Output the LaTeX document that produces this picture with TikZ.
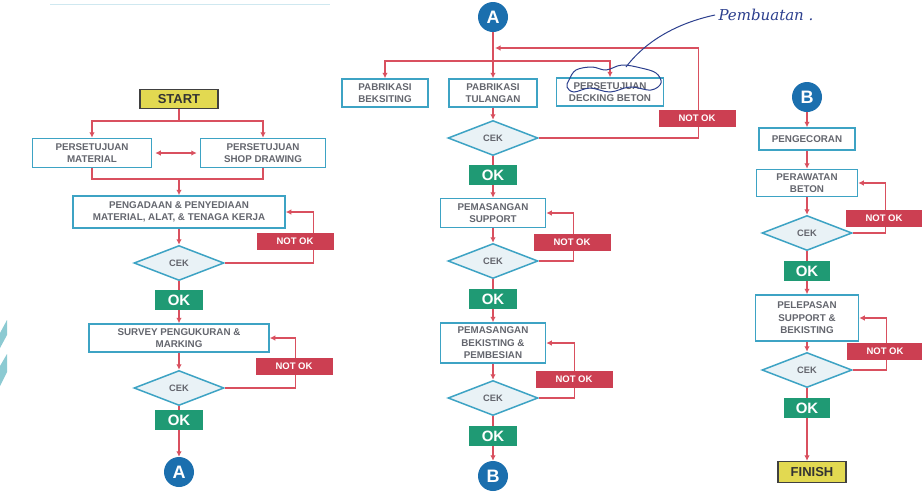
\documentclass[tikz,border=0pt]{standalone}
\usepackage{fontspec}
\setmainfont{Liberation Sans}
\newfontfamily\handfont{DejaVu Serif}
\usetikzlibrary{shapes.geometric,arrows.meta}
\definecolor{flowred}{HTML}{D9505F}
\definecolor{boxblue}{HTML}{3DA3C4}
\definecolor{txtgray}{HTML}{64666E}
\definecolor{cekfill}{HTML}{E9F2F6}
\definecolor{nokred}{HTML}{CC3F52}
\definecolor{okgreen}{HTML}{1F9A74}
\definecolor{conblue}{HTML}{1B6FAE}
\definecolor{termyellow}{HTML}{E2D951}
\definecolor{ink}{HTML}{2C3F8E}
\definecolor{stripe}{HTML}{8CCAD2}
\tikzset{
  wire/.style={flowred,line width=1.4pt},
  flow/.style={wire,-{Latex[length=5.5pt,width=5.5pt]}},
  stepbox/.style={draw=boxblue,line width=1.5pt,fill=white,inner sep=1pt,align=center,
    text=txtgray,font=\fontsize{9.8}{12.5}\selectfont\bfseries},
  cekbox/.style={diamond,aspect=1,draw=boxblue,line width=1.5pt,fill=cekfill,inner sep=0pt,
    minimum width=90pt,minimum height=35pt,text=txtgray,font=\fontsize{9.3}{10}\selectfont\bfseries},
  okbox/.style={fill=okgreen,text=white,inner sep=0pt,minimum width=48pt,minimum height=20pt,
    font=\fontsize{15}{15}\selectfont\bfseries},
  notok/.style={fill=nokred,text=white,inner sep=0pt,minimum width=77pt,minimum height=17pt,
    font=\fontsize{9.5}{10}\selectfont\bfseries},
  termbox/.style={fill=termyellow,draw=black!75,line width=1.3pt,inner sep=0pt,text=black!80,
    font=\fontsize{13}{13}\selectfont\bfseries},
  conn/.style={circle,fill=conblue,text=white,inner sep=0pt,minimum size=30pt,
    font=\fontsize{18}{18}\selectfont\bfseries},
}
% diamond, feedback to the box above and its NOT OK tag
\newcommand{\cekloop}[6]{%
  \node[cekbox] (#1) at (#2,#3) {CEK};
  \draw[flow] (#1.east) -- ++(#4,0) |- (#5.east);
  \node[notok] (#1n) at (#6) {NOT OK};
}

\begin{document}
\begin{tikzpicture}[x=1pt,y=-1pt]
  \fill[white] (0,0) rectangle (922,491);
  \useasboundingbox (0,0) rectangle (922,491);
  \draw[boxblue!25,line width=1pt] (50,4) -- (330,4);
  \fill[stripe] (0,333) -- (7,320) -- (7,335) -- (0,348) -- cycle;
  \fill[stripe] (0,366) -- (7,354) -- (7,372) -- (0,386) -- cycle;

  % left column
  \node[termbox,minimum width=78pt,minimum height=19pt] (start) at (179,99) {START};
  \node[stepbox,minimum width=119pt,minimum height=29pt] (pmat) at (92,153) {PERSETUJUAN\\MATERIAL};
  \node[stepbox,minimum width=125pt,minimum height=29pt] (pshop) at (263,153) {PERSETUJUAN\\SHOP DRAWING};
  \node[stepbox,minimum width=212pt,minimum height=32pt] (adaan) at (179,212) {PENGADAAN \& PENYEDIAAN\\MATERIAL, ALAT, \& TENAGA KERJA};
  \draw[flow] (start.south) -- ++(0,12) -| (pmat.north);
  \draw[flow] (start.south) -- ++(0,12) -| (pshop.north);
  \draw[flow,{Latex[length=5.5pt,width=5.5pt]}-{Latex[length=5.5pt,width=5.5pt]},shorten <=3pt,shorten >=3pt] (pmat) -- (pshop);
  \coordinate (join1) at (179,179);
  \draw[wire] (pmat.south) |- (join1) -| (pshop.south);
  \draw[flow] (join1) -- (adaan.north);
  \cekloop{cek1}{179}{263}{89}{adaan}{295,241}
  \draw[flow] (adaan) -- (cek1);
  \node[okbox] (ok1) at (179,300) {OK};
  \draw[wire] (cek1) -- (ok1);
  \node[stepbox,minimum width=180pt,minimum height=28pt] (survey) at (179,338) {SURVEY PENGUKURAN \&\\MARKING};
  \draw[flow] (ok1) -- (survey);
  \cekloop{cek2}{179}{388}{71}{survey}{294,366}
  \draw[flow] (survey) -- (cek2);
  \node[okbox] (ok2) at (179,420) {OK};
  \draw[wire] (cek2) -- (ok2);
  \node[conn] (conA) at (179,472) {A};
  \draw[flow] (ok2) -- (conA);

  % middle column
  \node[conn] (conA2) at (493,17) {A};
  \node[stepbox,minimum width=86pt,minimum height=28pt] (pbek) at (385,93) {PABRIKASI\\BEKSITING};
  \node[stepbox,minimum width=88pt,minimum height=28pt] (ptul) at (493,93) {PABRIKASI\\TULANGAN};
  \node[stepbox,minimum width=107pt,minimum height=28pt] (pdeck) at (610,92) {PERSETUJUAN\\DECKING BETON};
  \coordinate (split) at (493,61);
  \coordinate (back) at (495,48);
  \draw[flow] (conA2) -- (ptul);
  \draw[flow] (split) -| (pbek.north);
  \draw[flow] (split) -| (pdeck.north);
  \node[cekbox] (cek3) at (493,138) {CEK};
  \draw[flow] (ptul) -- (cek3);
  \draw[flow] (cek3.east) -- ++(160,0) |- (back);
  \node[notok] (cek3n) at (697,118) {NOT OK};
  \node[okbox] (ok3) at (493,175) {OK};
  \draw[wire] (cek3) -- (ok3);
  \node[stepbox,minimum width=105pt,minimum height=29pt] (support) at (493,213) {PEMASANGAN\\SUPPORT};
  \draw[flow] (ok3) -- (support);
  \cekloop{cek4}{493}{261}{35}{support}{572,242}
  \draw[flow] (support) -- (cek4);
  \node[okbox] (ok4) at (493,299) {OK};
  \draw[wire] (cek4) -- (ok4);
  \node[stepbox,minimum width=105pt,minimum height=40pt] (bekist) at (493,343) {PEMASANGAN\\BEKISTING \&\\PEMBESIAN};
  \draw[flow] (ok4) -- (bekist);
  \cekloop{cek5}{493}{398}{36}{bekist}{574,379}
  \draw[flow] (bekist) -- (cek5);
  \node[okbox] (ok5) at (493,436) {OK};
  \draw[wire] (cek5) -- (ok5);
  \node[conn] (conB) at (493,476) {B};
  \draw[flow] (ok5) -- (conB);

  % right column
  \node[conn] (conB2) at (807,97) {B};
  \node[stepbox,minimum width=96pt,minimum height=22pt] (cor) at (807,139) {PENGECORAN};
  \draw[flow] (conB2) -- (cor);
  \node[stepbox,minimum width=101pt,minimum height=27pt] (rawat) at (807,183) {PERAWATAN\\BETON};
  \draw[flow] (cor) -- (rawat);
  \cekloop{cek6}{807}{233}{33}{rawat}{884,218}
  \draw[flow] (rawat) -- (cek6);
  \node[okbox,minimum width=46pt] (ok6) at (807,271) {OK};
  \draw[wire] (cek6) -- (ok6);
  \node[stepbox,minimum width=103pt,minimum height=46pt] (lepas) at (807,318) {PELEPASAN\\SUPPORT \&\\BEKISTING};
  \draw[flow] (ok6) -- (lepas);
  \cekloop{cek7}{807}{370}{34}{lepas}{885,351}
  \draw[flow] (lepas) -- (cek7);
  \node[okbox,minimum width=46pt] (ok7) at (807,408) {OK};
  \draw[wire] (cek7) -- (ok7);
  \node[termbox,minimum width=68pt,minimum height=21pt] (finish) at (812,472) {FINISH};
  \draw[flow] (ok7.south) -- (ok7.south |- finish.north);

  % pen note
  \draw[ink,line width=1pt] plot[smooth cycle,tension=0.6] coordinates {(569,80) (576,70) (592,67) (606,70) (622,65) (641,68) (656,73) (661,83) (651,90) (630,87) (610,92) (590,88) (574,92) (567,87)};
  \node[ink,anchor=west,font=\handfont\itshape\fontsize{15}{15}\selectfont] (note) at (715,15) {Pembuatan .};
  \coordinate (cloudtop) at (626,67);
  \draw[ink,line width=1pt] (note.west) .. controls (682,22) and (648,38) .. (cloudtop);
\end{tikzpicture}
\end{document}
